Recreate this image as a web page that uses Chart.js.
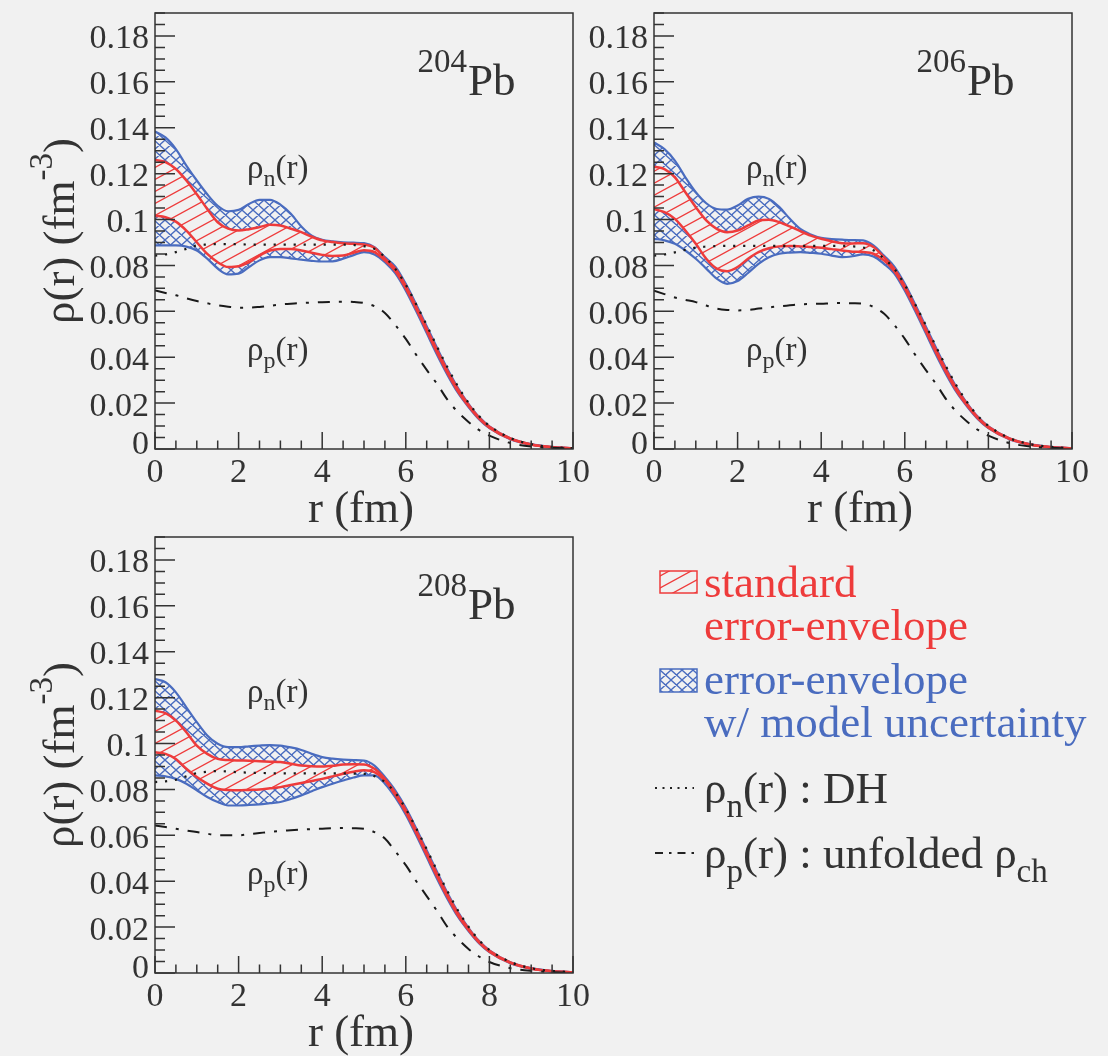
<!DOCTYPE html>
<html>
<head>
<meta charset="utf-8">
<script src="https://cdn.jsdelivr.net/npm/chart.js@4.4.1/dist/chart.umd.min.js"></script>
<style>
  html, body { margin: 0; padding: 0; background: #f1f1f1; }
  #wrap { position: relative; width: 1108px; height: 1056px; overflow: hidden; }
  #wrap canvas { position: absolute; left: 0; top: 0; }
</style>
</head>
<body>
<div id="wrap">
  <canvas id="pb204" width="1108" height="1056"></canvas>
  <canvas id="pb206" width="1108" height="1056"></canvas>
  <canvas id="pb208" width="1108" height="1056"></canvas>
</div>
<script>
// radius grid (fm)
const radius = [0, 0.25, 0.5, 0.75, 1, 1.25, 1.5, 1.75, 2, 2.25, 2.5, 2.75, 3, 3.25, 3.5, 3.75, 4, 4.25, 4.5, 4.75, 5, 5.25, 5.5,
                5.75, 6, 6.25, 6.5, 6.75, 7, 7.25, 7.5, 7.75, 8, 8.5, 9, 9.5, 10];

// 204Pb
const pb204BlueUpper = [0.1384, 0.1358, 0.1307, 0.1235, 0.117, 0.111, 0.106, 0.1036, 0.1042, 0.1068, 0.1086, 0.1086, 0.1065, 0.1025, 0.097, 0.093, 0.0912, 0.0905, 0.0901, 0.0899, 0.0897, 0.088, 0.0836,
                        0.0795, 0.072, 0.063, 0.0535, 0.044, 0.0348, 0.0266, 0.0197, 0.014, 0.0099, 0.0047, 0.0021, 0.0009, 0.0003];
const pb204RedUpper  = [0.126, 0.125, 0.122, 0.117, 0.111, 0.1046, 0.0988, 0.096, 0.0952, 0.0958, 0.0967, 0.0977, 0.0974, 0.096, 0.0945, 0.0925, 0.0909, 0.0902, 0.0897, 0.0894, 0.0891, 0.0877, 0.083,
                        0.0785, 0.071, 0.062, 0.0525, 0.043, 0.034, 0.026, 0.0193, 0.0137, 0.0097, 0.0046, 0.002, 0.0008, 0.0003];
const pb204RedLower  = [0.1017, 0.101, 0.0991, 0.0952, 0.0901, 0.085, 0.0814, 0.0793, 0.0796, 0.0814, 0.0843, 0.0865, 0.0872, 0.0872, 0.0865, 0.0855, 0.0846, 0.0841, 0.0843, 0.0855, 0.0866, 0.0858, 0.0822,
                        0.0775, 0.07, 0.061, 0.0515, 0.042, 0.033, 0.025, 0.0187, 0.0133, 0.0093, 0.0044, 0.0019, 0.0008, 0.0003];
const pb204BlueLower = [0.0887, 0.0887, 0.0887, 0.0882, 0.0865, 0.0829, 0.0786, 0.0761, 0.0764, 0.0793, 0.0822, 0.0836, 0.0836, 0.0831, 0.0825, 0.082, 0.0817, 0.0818, 0.0829, 0.0845, 0.0858, 0.0848, 0.0814,
                        0.0765, 0.069, 0.06, 0.0505, 0.041, 0.0322, 0.0244, 0.0183, 0.013, 0.0091, 0.0043, 0.0019, 0.0007, 0.0003];
const pb204DH        = [0.0843, 0.0848, 0.0858, 0.0872, 0.0887, 0.0891, 0.0893, 0.0893, 0.0892, 0.0891, 0.0891, 0.0891, 0.0891, 0.0891, 0.0891, 0.0891, 0.0891, 0.0891, 0.0891, 0.0889, 0.0884, 0.0872, 0.0836,
                        0.0785, 0.0715, 0.063, 0.054, 0.0445, 0.0355, 0.0272, 0.0202, 0.0144, 0.0101, 0.0048, 0.0021, 0.0009, 0.0003];
const pb204Proton    = [0.0691, 0.068, 0.067, 0.0657, 0.0645, 0.0635, 0.0626, 0.062, 0.0616, 0.0616, 0.0619, 0.0624, 0.063, 0.0633, 0.0636, 0.0638, 0.064, 0.0641, 0.0642, 0.0641, 0.0636, 0.0622, 0.0593,
                        0.054, 0.048, 0.041, 0.0345, 0.0283, 0.0214, 0.016, 0.0118, 0.0083, 0.0058, 0.0026, 0.0011, 0.0005, 0.0002];

// 206Pb
const pb206BlueUpper = [0.1336, 0.1307, 0.1257, 0.1184, 0.1119, 0.1071, 0.1046, 0.1043, 0.1061, 0.109, 0.11, 0.109, 0.1054, 0.1003, 0.0959, 0.0935, 0.092, 0.0915, 0.0912, 0.091, 0.0909, 0.0887, 0.0843,
                        0.0795, 0.072, 0.063, 0.0535, 0.044, 0.0348, 0.0266, 0.0197, 0.014, 0.0099, 0.0047, 0.0021, 0.0009, 0.0003];
const pb206RedUpper  = [0.123, 0.122, 0.1184, 0.1119, 0.1054, 0.0996, 0.0959, 0.0945, 0.0952, 0.0974, 0.0996, 0.0999, 0.0988, 0.097, 0.0949, 0.093, 0.0916, 0.0905, 0.0897, 0.0896, 0.0897, 0.088, 0.0836,
                        0.0785, 0.071, 0.062, 0.0525, 0.043, 0.034, 0.026, 0.0193, 0.0137, 0.0097, 0.0046, 0.002, 0.0008, 0.0003];
const pb206RedLower  = [0.1046, 0.1032, 0.1003, 0.0952, 0.0894, 0.0829, 0.0786, 0.0775, 0.0793, 0.0829, 0.0858, 0.0875, 0.0883, 0.0885, 0.0883, 0.088, 0.0877, 0.0871, 0.0865, 0.086, 0.0858, 0.0851, 0.0822,
                        0.0775, 0.07, 0.061, 0.0515, 0.042, 0.033, 0.025, 0.0187, 0.0133, 0.0093, 0.0044, 0.0019, 0.0008, 0.0003];
const pb206BlueLower = [0.0916, 0.0909, 0.0894, 0.0865, 0.0829, 0.0786, 0.0742, 0.072, 0.0732, 0.0767, 0.0807, 0.0836, 0.0851, 0.0856, 0.0858, 0.0855, 0.0851, 0.0843, 0.0836, 0.084, 0.0848, 0.0839, 0.0807,
                        0.0765, 0.069, 0.06, 0.0505, 0.041, 0.0322, 0.0244, 0.0183, 0.013, 0.0091, 0.0043, 0.0019, 0.0007, 0.0003];
const pb206DH        = [0.0843, 0.0848, 0.0857, 0.0868, 0.0878, 0.0882, 0.0884, 0.0885, 0.0885, 0.0885, 0.0885, 0.0885, 0.0885, 0.0885, 0.0885, 0.0885, 0.0885, 0.0885, 0.0885, 0.0883, 0.0878, 0.0866, 0.083,
                        0.0785, 0.0715, 0.063, 0.054, 0.0445, 0.0355, 0.0272, 0.0202, 0.0144, 0.0101, 0.0048, 0.0021, 0.0009, 0.0003];
const pb206Proton    = [0.069, 0.0675, 0.066, 0.065, 0.064, 0.0625, 0.0612, 0.0606, 0.0604, 0.0606, 0.0612, 0.0617, 0.0622, 0.0626, 0.063, 0.0632, 0.0633, 0.0635, 0.0636, 0.0635, 0.0633, 0.0619, 0.059,
                        0.054, 0.048, 0.041, 0.0345, 0.0283, 0.0214, 0.016, 0.0118, 0.0083, 0.0058, 0.0026, 0.0011, 0.0005, 0.0002];

// 208Pb
const pb208BlueUpper = [0.1281, 0.1267, 0.1223, 0.1158, 0.1093, 0.1035, 0.0999, 0.0984, 0.0984, 0.0988, 0.0991, 0.0993, 0.0991, 0.0983, 0.0972, 0.0955, 0.0941, 0.0934, 0.093, 0.0928, 0.0926, 0.0904, 0.0854,
                        0.0795, 0.072, 0.063, 0.0535, 0.044, 0.0348, 0.0266, 0.0197, 0.014, 0.0099, 0.0047, 0.0021, 0.0009, 0.0003];
const pb208RedUpper  = [0.1143, 0.1132, 0.11, 0.1049, 0.0991, 0.0955, 0.0933, 0.0928, 0.0926, 0.0925, 0.0923, 0.0921, 0.0919, 0.0912, 0.0904, 0.0901, 0.09, 0.0903, 0.0909, 0.091, 0.0909, 0.089, 0.0846,
                        0.0785, 0.071, 0.062, 0.0525, 0.043, 0.034, 0.026, 0.0193, 0.0137, 0.0097, 0.0046, 0.002, 0.0008, 0.0003];
const pb208RedLower  = [0.0962, 0.0955, 0.0933, 0.089, 0.0854, 0.0825, 0.0803, 0.0797, 0.0796, 0.0798, 0.08, 0.0805, 0.081, 0.0819, 0.0828, 0.0837, 0.0846, 0.0857, 0.0868, 0.0877, 0.0883, 0.0875, 0.0839,
                        0.0775, 0.07, 0.061, 0.0515, 0.042, 0.033, 0.025, 0.0187, 0.0133, 0.0093, 0.0044, 0.0019, 0.0008, 0.0003];
const pb208BlueLower = [0.0861, 0.0857, 0.0846, 0.0825, 0.0796, 0.0767, 0.0745, 0.073, 0.073, 0.0732, 0.0735, 0.074, 0.0745, 0.0758, 0.0774, 0.0792, 0.081, 0.0825, 0.0839, 0.0852, 0.0861, 0.0861, 0.0825,
                        0.0765, 0.069, 0.06, 0.0505, 0.041, 0.0322, 0.0244, 0.0183, 0.013, 0.0091, 0.0043, 0.0019, 0.0007, 0.0003];
const pb208DH        = [0.0832, 0.0835, 0.0842, 0.0857, 0.0871, 0.0877, 0.088, 0.0878, 0.0875, 0.0873, 0.0872, 0.0871, 0.087, 0.087, 0.087, 0.087, 0.087, 0.087, 0.087, 0.0869, 0.0868, 0.0858, 0.0832,
                        0.0785, 0.0715, 0.063, 0.054, 0.0445, 0.0355, 0.0272, 0.0202, 0.0144, 0.0101, 0.0048, 0.0021, 0.0009, 0.0003];
const pb208Proton    = [0.0643, 0.0636, 0.0629, 0.0621, 0.0614, 0.0607, 0.06, 0.06, 0.06, 0.0605, 0.061, 0.0615, 0.0619, 0.0622, 0.0625, 0.0627, 0.0629, 0.0631, 0.0632, 0.0631, 0.0629, 0.0614, 0.0586,
                        0.053, 0.047, 0.04, 0.0335, 0.027, 0.02, 0.0148, 0.0105, 0.0072, 0.0048, 0.0021, 0.0009, 0.0004, 0.0001];

// axes
const xTickValues = [0, 2, 4, 6, 8, 10];
const xTickLabels = ['0', '2', '4', '6', '8', '10'];
const yTickValues = [0, 0.02, 0.04, 0.06, 0.08, 0.1, 0.12, 0.14, 0.16, 0.18];
const yTickLabels = ['0', '0.02', '0.04', '0.06', '0.08', '0.1', '0.12', '0.14', '0.16', '0.18'];
const xMinorStep = 0.5;
const yMinorStep = 0.005;
const xMax = 10;
const yMax = 0.19;

const INK = '#333333';
const RED = '#ee3b3b';
const BLUE = '#4a6cbf';
const PAPER = '#f1f1f1';
const SERIF = '"Liberation Serif", "Times New Roman", serif';

function font(size) { return size + 'px ' + SERIF; }

// draws a run of [text, size, dy] pieces on one baseline
function richText(ctx, x, y, parts, align) {
    let w = 0;
    parts.forEach(p => { ctx.font = font(p[1]); w += ctx.measureText(p[0]).width; });
    let cx = align === 'center' ? x - w / 2 : (align === 'right' ? x - w : x);
    ctx.textAlign = 'left';
    parts.forEach(p => {
        ctx.font = font(p[1]);
        ctx.fillText(p[0], cx, y + (p[2] || 0));
        cx += ctx.measureText(p[0]).width;
    });
}

function makeTile(w, h, bg, color, lw, cross) {
    const c = document.createElement('canvas');
    c.width = w; c.height = h;
    const g = c.getContext('2d');
    if (bg) { g.fillStyle = bg; g.fillRect(0, 0, w, h); }
    g.strokeStyle = color;
    g.lineWidth = lw;
    g.beginPath();
    for (let k = -1; k <= 1; k++) {
        g.moveTo(k * w - w, 2 * h); g.lineTo(k * w + 2 * w, -h);
        if (cross) { g.moveTo(k * w - w, -h); g.lineTo(k * w + 2 * w, 2 * h); }
    }
    g.stroke();
    return c;
}

const patCtx = document.createElement('canvas').getContext('2d');
const redHatch = patCtx.createPattern(makeTile(22, 12, PAPER, RED, 1.3, false), 'repeat');
const blueHatch = patCtx.createPattern(makeTile(11, 10, null, BLUE, 1.3, true), 'repeat');

const rootAxes = {
    id: 'rootAxes',
    afterDatasetsDraw(chart, args, opts) {
        const { ctx, chartArea: a } = chart;
        const x = chart.scales.x, y = chart.scales.y;
        ctx.save();
        ctx.strokeStyle = INK;
        ctx.fillStyle = INK;
        ctx.lineWidth = 1.5;
        ctx.beginPath();
        for (let i = 0; i * yMinorStep <= yMax + 1e-9; i++) {
            const py = y.getPixelForValue(i * yMinorStep);
            ctx.moveTo(a.left, py);
            ctx.lineTo(a.left + (i % 4 === 0 ? 20 : 10), py);
        }
        for (let i = 0; i * xMinorStep <= xMax + 1e-9; i++) {
            const px = x.getPixelForValue(i * xMinorStep);
            ctx.moveTo(px, a.bottom);
            ctx.lineTo(px, a.bottom - (i % 4 === 0 ? 17 : 8.5));
        }
        ctx.stroke();
        ctx.strokeRect(a.left, a.top, a.right - a.left, a.bottom - a.top);

        ctx.textBaseline = 'alphabetic';
        ctx.font = font(34);
        ctx.textAlign = 'right';
        yTickValues.forEach((v, i) => {
            const py = y.getPixelForValue(v);
            ctx.fillText(yTickLabels[i], a.left - 6, Math.min(py + 12.5, a.bottom + 5));
        });
        ctx.textAlign = 'center';
        xTickValues.forEach((v, i) => {
            ctx.fillText(xTickLabels[i], x.getPixelForValue(v), a.bottom + 33);
        });

        richText(ctx, (a.left + a.right) / 2 - 3, a.bottom + 73, [['r (fm)', 45]], 'center');

        if (opts.yTitle) {
            ctx.save();
            ctx.translate(a.left - 81, (a.top + a.bottom) / 2);
            ctx.rotate(-Math.PI / 2);
            richText(ctx, 0, 0, [['\u03c1(r) (fm', 45], ['-3', 33, -22], [')', 45]], 'center');
            ctx.restore();
        }

        // isotope tag
        const pbX = a.right - 105;
        ctx.font = font(45);
        ctx.textAlign = 'left';
        ctx.fillText('Pb', pbX, a.top + 82);
        ctx.font = font(33);
        ctx.textAlign = 'right';
        ctx.fillText(opts.mass, pbX - 1, a.top + 59);

        richText(ctx, a.left + 92, a.top + 165, [['\u03c1', 33], ['n', 24, 8], ['(r)', 33]], 'left');
        richText(ctx, a.left + 92, a.top + 347, [['\u03c1', 33], ['p', 24, 8], ['(r)', 33]], 'left');

        if (opts.legend) drawLegend(ctx);
        ctx.restore();
    }
};

function drawLegend(ctx) {
    ctx.save();
    ctx.fillStyle = redHatch;
    ctx.fillRect(660, 571, 37, 22);
    ctx.strokeStyle = RED;
    ctx.lineWidth = 1.5;
    ctx.strokeRect(660, 571, 37, 22);

    ctx.fillStyle = PAPER;
    ctx.fillRect(660, 669, 37, 23);
    ctx.fillStyle = blueHatch;
    ctx.fillRect(660, 669, 37, 23);
    ctx.strokeStyle = BLUE;
    ctx.strokeRect(660, 669, 37, 23);

    ctx.strokeStyle = '#222';
    ctx.lineWidth = 2;
    ctx.setLineDash([2, 5.5]);
    ctx.beginPath(); ctx.moveTo(655, 788); ctx.lineTo(694, 788); ctx.stroke();
    ctx.setLineDash([8, 6, 2.5, 6]);
    ctx.beginPath(); ctx.moveTo(655, 853); ctx.lineTo(697, 853); ctx.stroke();
    ctx.setLineDash([]);

    ctx.textBaseline = 'alphabetic';
    ctx.fillStyle = RED;
    richText(ctx, 704, 597, [['standard', 45]], 'left');
    richText(ctx, 704, 640, [['error-envelope', 45]], 'left');
    ctx.fillStyle = BLUE;
    richText(ctx, 704, 694, [['error-envelope', 45]], 'left');
    richText(ctx, 704, 737, [['w/ model uncertainty', 45]], 'left');
    ctx.fillStyle = INK;
    richText(ctx, 704, 803, [['\u03c1', 45], ['n', 33, 14], ['(r) : DH', 45]], 'left');
    richText(ctx, 704, 868, [['\u03c1', 45], ['p', 33, 14], ['(r) : unfolded \u03c1', 45], ['ch', 33, 14]], 'left');
    ctx.restore();
}

function points(values) {
    return radius.map((r, i) => ({ x: r, y: values[i] }));
}

function makePanel(id, area, curves, opts) {
    const common = { pointRadius: 0, cubicInterpolationMode: 'monotone', clip: 0 };
    new Chart(document.getElementById(id), {
        type: 'line',
        data: {
            datasets: [
                { ...common, data: points(curves.blueUpper), borderColor: BLUE, borderWidth: 2.2, fill: '+1', backgroundColor: blueHatch, order: 6 },
                { ...common, data: points(curves.blueLower), borderColor: BLUE, borderWidth: 2.2, fill: false, order: 5 },
                { ...common, data: points(curves.redUpper), borderColor: RED, borderWidth: 2.5, fill: '+1', backgroundColor: redHatch, order: 4 },
                { ...common, data: points(curves.redLower), borderColor: RED, borderWidth: 2.5, fill: false, order: 3 },
                { ...common, data: points(curves.dh), borderColor: '#1a1a1a', borderWidth: 2.2, borderDash: [2.2, 7.8], fill: false, order: 2 },
                { ...common, data: points(curves.proton), borderColor: '#1a1a1a', borderWidth: 2, borderDash: [12, 9, 3, 9], fill: false, order: 1 }
            ]
        },
        options: {
            responsive: false,
            animation: false,
            devicePixelRatio: 1,
            events: [],
            layout: { padding: { left: area.left, top: area.top, right: 1108 - area.right, bottom: 1056 - area.bottom } },
            scales: {
                x: { type: 'linear', min: 0, max: xMax, display: false },
                y: { type: 'linear', min: 0, max: yMax, display: false }
            },
            plugins: {
                legend: { display: false },
                tooltip: { enabled: false },
                rootAxes: opts
            }
        },
        plugins: [rootAxes]
    });
}

makePanel('pb204', { left: 155, top: 13, right: 573, bottom: 449 },
    { blueUpper: pb204BlueUpper, blueLower: pb204BlueLower, redUpper: pb204RedUpper, redLower: pb204RedLower, dh: pb204DH, proton: pb204Proton },
    { mass: '204', yTitle: true });
makePanel('pb206', { left: 654, top: 13, right: 1072, bottom: 449 },
    { blueUpper: pb206BlueUpper, blueLower: pb206BlueLower, redUpper: pb206RedUpper, redLower: pb206RedLower, dh: pb206DH, proton: pb206Proton },
    { mass: '206', yTitle: false });
makePanel('pb208', { left: 155, top: 537, right: 573, bottom: 973 },
    { blueUpper: pb208BlueUpper, blueLower: pb208BlueLower, redUpper: pb208RedUpper, redLower: pb208RedLower, dh: pb208DH, proton: pb208Proton },
    { mass: '208', yTitle: true, legend: true });
</script>
</body>
</html>
